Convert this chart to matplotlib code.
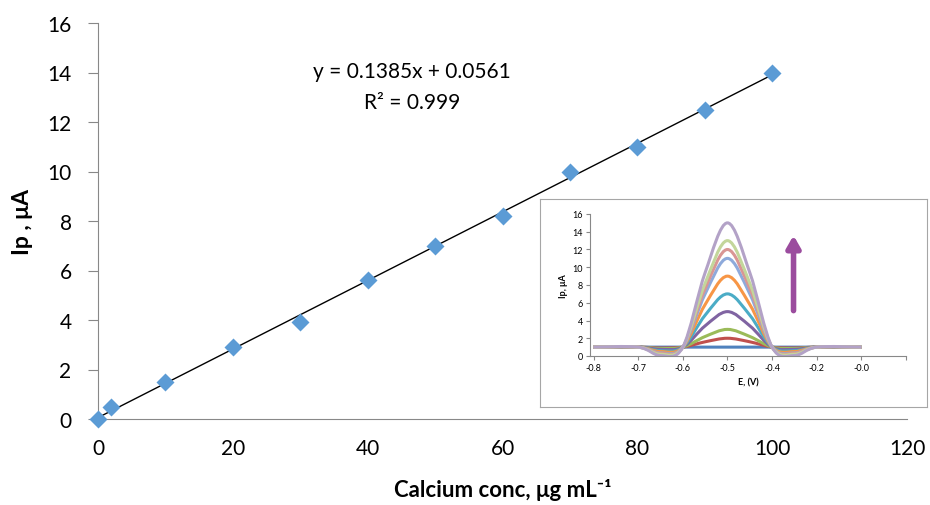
import matplotlib.pyplot as plt
from matplotlib.path import Path
from matplotlib.patches import PathPatch

plt.rcParams['font.family'] = ['Lato', 'DejaVu Sans']

# main calibration data
conc = [0, 2, 10, 20, 30, 40, 50, 60, 70, 80, 90, 100]
ip = [0.0, 0.5, 1.5, 2.9, 3.9, 5.6, 7.0, 8.2, 10.0, 11.0, 12.5, 14.0]
slope = 0.1385
intercept = 0.0561
fit_x = [0, 100]

# inset voltammograms
pot = [-0.8, -0.7, -0.65, -0.6, -0.55, -0.5, -0.45, -0.4, -0.35, -0.3, -0.2]
curves = [
    [1, 1, 1.0, 1, 1.0, 1, 1.0, 1, 1.0, 1, 1],
    [1, 1, 0.9, 1, 1.6, 2, 1.6, 1, 0.9, 1, 1],
    [1, 1, 0.85, 1, 2.2, 3, 2.2, 1, 0.85, 1, 1],
    [1, 1, 0.75, 1, 3.4, 5, 3.4, 1, 0.75, 1, 1],
    [1, 1, 0.6, 1, 4.6, 7, 4.6, 1, 0.6, 1, 1],
    [1, 1, 0.5, 1, 5.8, 9, 5.8, 1, 0.5, 1, 1],
    [1, 1, 0.35, 1, 7.0, 11, 7.0, 1, 0.35, 1, 1],
    [1, 1, 0.3, 1, 7.6, 12, 7.6, 1, 0.3, 1, 1],
    [1, 1, 0.2, 1, 8.2, 13, 8.2, 1, 0.2, 1, 1],
    [1, 1, 0.05, 1, 9.4, 15, 9.4, 1, 0.05, 1, 1],
]
curve_colors = ['#4F81BD', '#C0504D', '#9BBB59', '#8064A2', '#4BACC6',
                '#F79646', '#8EAADB', '#D99694', '#C3D69B', '#B3A2C7']
inset_xticks = [-0.8, -0.7, -0.6, -0.5, -0.4, -0.3, -0.2, -0.1]
inset_xlabels = ['-0.8', '-0.7', '-0.6', '-0.5', '-0.4', '-0.2', '-0.0', '']


def smooth_path(xs, ys):
    # Excel-like smoothed line: Catmull-Rom turned into cubic Bezier segments
    pts = list(zip(xs, ys))
    verts = [pts[0]]
    codes = [Path.MOVETO]
    n = len(pts)
    for i in range(n - 1):
        p0 = pts[max(i - 1, 0)]
        p1 = pts[i]
        p2 = pts[i + 1]
        p3 = pts[min(i + 2, n - 1)]
        c1 = (p1[0] + (p2[0] - p0[0]) / 6, p1[1] + (p2[1] - p0[1]) / 6)
        c2 = (p2[0] - (p3[0] - p1[0]) / 6, p2[1] - (p3[1] - p1[1]) / 6)
        verts += [c1, c2, p2]
        codes += [Path.CURVE4] * 3
    return Path(verts, codes)


fig = plt.figure(figsize=(9.3, 5.06), dpi=100)
W, H = 930, 506

ax = fig.add_axes([98 / W, 1 - 420 / H, (907 - 98) / W, (420 - 24) / H])
ax.plot(fit_x, [slope * v + intercept for v in fit_x], color='black', lw=1)
ax.plot(conc, ip, 'D', color='#5B9BD5', ms=9.5, mec='none', clip_on=False, zorder=3)
ax.set_xlim(0, 120)
ax.set_ylim(0, 16)
ax.set_xticks(range(0, 121, 20))
ax.set_yticks(range(0, 17, 2))
for s in ['top', 'right']:
    ax.spines[s].set_visible(False)
for s in ['left', 'bottom']:
    ax.spines[s].set_color('#888888')
ax.tick_params(axis='y', length=7, color='#888888', labelsize=15, pad=12)
ax.tick_params(axis='x', length=0, labelsize=15, pad=14)
ax.set_ylabel('Ip , μA', fontsize=16.5, fontweight='bold', labelpad=10)
ax.set_xlabel('Calcium conc, μg mL⁻¹', fontsize=16, fontweight='bold', labelpad=14)
ax.text(46.6, 14.05, 'y = 0.1385x + 0.0561', fontsize=15, ha='center', va='center')
ax.text(46.6, 12.8, 'R² = 0.999', fontsize=15, ha='center', va='center')

# inset frame
frame = fig.add_axes([540 / W, 1 - 408 / H, 387 / W, 208 / H])
frame.set_xticks([])
frame.set_yticks([])
frame.set_facecolor('white')
for s in frame.spines.values():
    s.set_color('#A6A6A6')

ins = fig.add_axes([590 / W, 1 - 357 / H, 316 / W, 142 / H])
ins.set_facecolor('none')
for ys, c in zip(curves, curve_colors):
    ins.add_patch(PathPatch(smooth_path(pot, ys), fill=False, edgecolor=c, lw=2.2))
ins.annotate('', xy=(-0.352, 13.9), xytext=(-0.352, 4.8),
             arrowprops=dict(arrowstyle='-|>,head_width=0.4,head_length=0.7',
                             color='#9B4C9E', lw=4))
ins.set_xlim(-0.808, -0.1)
ins.set_ylim(0, 16)
ins.set_xticks(inset_xticks)
ins.set_xticklabels(inset_xlabels)
ins.set_yticks(range(0, 17, 2))
for s in ['top', 'right']:
    ins.spines[s].set_visible(False)
for s in ['left', 'bottom']:
    ins.spines[s].set_color('#888888')
ins.tick_params(length=3, color='#888888', labelsize=6.5, pad=2)
ins.set_ylabel('Ip, μA', fontsize=6.5, fontweight='bold', labelpad=3)
ins.set_xlabel('E, (V)', fontsize=6.5, fontweight='bold', labelpad=4)

fig.savefig('out.png', dpi=100)
